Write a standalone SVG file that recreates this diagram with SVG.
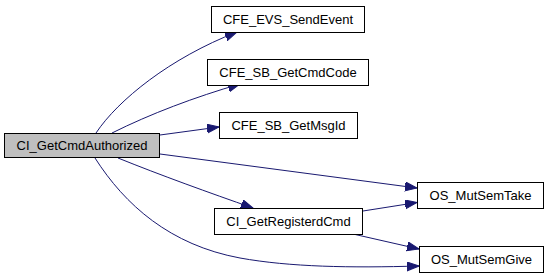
<svg xmlns="http://www.w3.org/2000/svg" width="549" height="277" viewBox="0 0 549 277">
  <style>
    .node rect { fill: #ffffff; stroke: #000000; stroke-width: 1; }
    .node.current rect { fill: #bfbfbf; }
    .node text { font-family: "Liberation Sans", Arial, Helvetica, sans-serif; font-size: 13px; fill: #000000; text-anchor: middle; }
    .edge { fill: none; stroke: #191970; stroke-width: 1; marker-end: url(#arrow); }
  </style>
  <defs>
    <marker id="arrow" markerUnits="userSpaceOnUse" markerWidth="13" markerHeight="10" refX="12" refY="4.5" orient="auto">
      <path d="M0,0 L12,4.5 L0,9 Z" fill="#191970" stroke="#191970" stroke-width="1"/>
    </marker>
  </defs>
  <rect width="549" height="277" fill="#ffffff"/>

  <!-- call edges -->
  <g id="edges">
    <path class="edge" d="M96,133 C118,100 170,58 237,32"/>
    <path class="edge" d="M112,133 C150,114 195,97 240,84"/>
    <path class="edge" d="M160,135 L219,127"/>
    <path class="edge" d="M160,154 L417,188"/>
    <path class="edge" d="M118,158 C160,175 210,193 253,208"/>
    <path class="edge" d="M95,158 C125,205 170,245 240,258 C290,267 350,268 419,266"/>
    <path class="edge" d="M363,211 L417,202.5"/>
    <path class="edge" d="M353,234 L419,249"/>
  </g>

  <g id="CI_GetCmdAuthorized" class="node current">
    <rect x="4.5" y="133.5" width="155" height="24"/>
    <text x="82" y="150">CI_GetCmdAuthorized</text>
  </g>
  <g id="CFE_EVS_SendEvent" class="node">
    <rect x="211.5" y="6.5" width="153" height="26"/>
    <text x="288" y="24">CFE_EVS_SendEvent</text>
  </g>
  <g id="CFE_SB_GetCmdCode" class="node">
    <rect x="207.5" y="59.5" width="161" height="26"/>
    <text x="288" y="77">CFE_SB_GetCmdCode</text>
  </g>
  <g id="CFE_SB_GetMsgId" class="node">
    <rect x="219.5" y="112.5" width="138" height="26"/>
    <text x="288.5" y="130">CFE_SB_GetMsgId</text>
  </g>
  <g id="CI_GetRegisterdCmd" class="node">
    <rect x="214.5" y="208.5" width="148" height="26"/>
    <text x="288.5" y="226">CI_GetRegisterdCmd</text>
  </g>
  <g id="OS_MutSemTake" class="node">
    <rect x="417.5" y="182.5" width="126" height="26"/>
    <text x="480.5" y="200">OS_MutSemTake</text>
  </g>
  <g id="OS_MutSemGive" class="node">
    <rect x="419.5" y="246.5" width="124" height="26"/>
    <text x="481.5" y="264">OS_MutSemGive</text>
  </g>
</svg>
